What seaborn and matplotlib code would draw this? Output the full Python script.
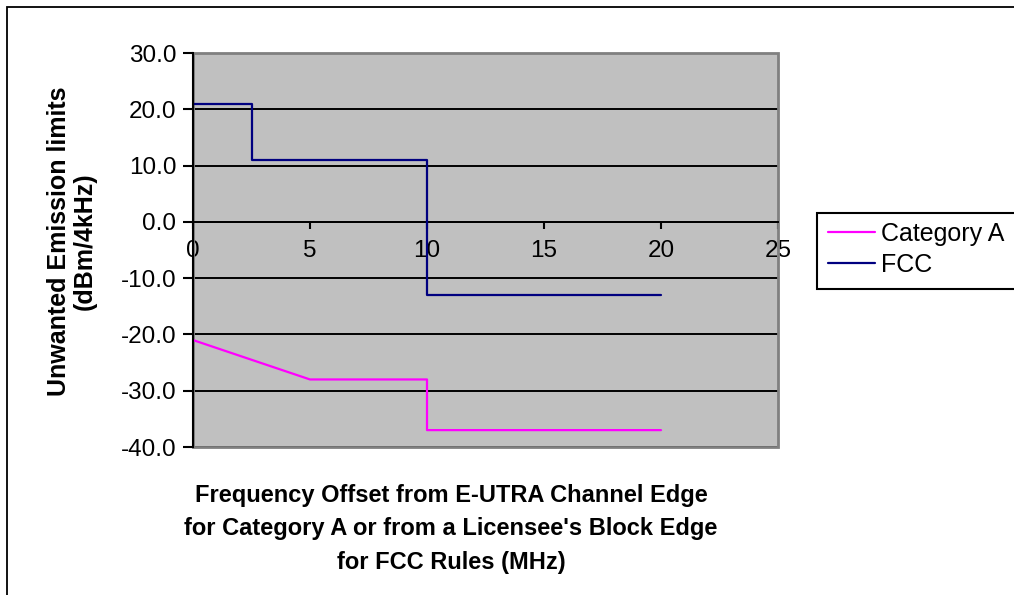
import matplotlib
matplotlib.use("Agg")
import matplotlib.pyplot as plt
from matplotlib.patches import Rectangle
from matplotlib.lines import Line2D
import seaborn as sns
import pandas as pd

# Emission limit masks (offset in MHz, limit in dBm/4kHz)
cat_a_offset = [0, 5, 10, 10, 20]
cat_a_limit = [-21, -28, -28, -37, -37]
fcc_offset = [0, 2.5, 2.5, 10, 10, 20]
fcc_limit = [21, 21, 11, 11, -13, -13]

series_names = ["Category A", "FCC"]
series_colors = ["#FF00FF", "#000080"]
x_ticks = [0, 5, 10, 15, 20, 25]
y_ticks = [30, 20, 10, 0, -10, -20, -30, -40]

df = pd.concat([
    pd.DataFrame({"offset": cat_a_offset, "limit": cat_a_limit, "series": series_names[0]}),
    pd.DataFrame({"offset": fcc_offset, "limit": fcc_limit, "series": series_names[1]}),
], ignore_index=True)

sns.set_style("white")
plt.rcParams["font.family"] = ["Liberation Sans", "DejaVu Sans"]
plt.rcParams["text.color"] = "black"
plt.rcParams["xtick.color"] = "black"
plt.rcParams["ytick.color"] = "black"

W, H = 1014, 595
fig = plt.figure(figsize=(W / 100, H / 100), dpi=100)
fig.patch.set_facecolor("white")

# outer chart border
fig.patches.append(Rectangle((7 / W, -0.2), 1.5, 1.2 - 7 / H, transform=fig.transFigure,
                             fill=False, edgecolor="black", linewidth=1.3, zorder=0))

left, right, top, bottom = 193, 778, 53, 447
ax = fig.add_axes([left / W, 1 - bottom / H, (right - left) / W, (bottom - top) / H])
ax.set_facecolor("#C0C0C0")

sns.lineplot(data=df, x="offset", y="limit", hue="series", palette=series_colors,
             hue_order=series_names, estimator=None, sort=False, linewidth=1.6,
             ax=ax, legend=False, zorder=3)

ax.set_xlim(0, 25)
ax.set_ylim(-40, 30)
ax.set_xticks(x_ticks)
ax.set_yticks(y_ticks)
ax.set_yticklabels([f"{v:.1f}" for v in y_ticks])
ax.set_xticklabels([str(v) for v in x_ticks])

ax.grid(False)
for yv in y_ticks:
    ax.axhline(yv, color="black", linewidth=1.4, zorder=1)

# gray plot-area frame
ax.add_patch(Rectangle((0, 0), 1, 1, transform=ax.transAxes, fill=False,
                       edgecolor="#808080", linewidth=2, zorder=2, clip_on=False))

for s in ["top", "right"]:
    ax.spines[s].set_visible(False)
ax.spines["left"].set_color("black")
ax.spines["left"].set_linewidth(1.5)
ax.spines["left"].set_zorder(4)
ax.spines["bottom"].set_position(("data", 0))
ax.spines["bottom"].set_color("black")
ax.spines["bottom"].set_linewidth(1.4)

ax.tick_params(axis="y", direction="out", length=7, width=1.5, color="black",
               labelcolor="black", labelsize=17.5, pad=5, left=True)
ax.tick_params(axis="x", direction="out", length=5, width=1.5, color="black",
               labelcolor="black", labelsize=17.5, pad=8, bottom=True)
ax.set_xlabel("")
ax.set_ylabel("")

fig.text(72 / W, 1 - 241 / H, "Unwanted Emission limits\n(dBm/4kHz)", rotation=90,
         ha="center", va="center", fontsize=18, fontweight="bold", linespacing=1.1,
         color="black")
fig.text(451 / W, 1 - 529 / H,
         "Frequency Offset from E-UTRA Channel Edge\nfor Category A or from a Licensee's Block Edge\nfor FCC Rules (MHz)",
         ha="center", va="center", fontsize=17, fontweight="bold", linespacing=1.6,
         color="black")

# legend box, running past the right edge of the chart
fig.patches.append(Rectangle((817 / W, 1 - 289 / H), 0.3, 76 / H, transform=fig.transFigure,
                             fill=True, facecolor="white", edgecolor="black",
                             linewidth=1.5, zorder=1))
handles = [Line2D([], [], color=c, linewidth=1.6) for c in series_colors]
leg = fig.legend(handles, series_names, loc="upper left",
                 bbox_to_anchor=(820 / W, 1 - 214 / H), fontsize=18, frameon=False,
                 borderpad=0.3, handlelength=1.9, handletextpad=0.25, labelspacing=0.3,
                 borderaxespad=0)
leg.set_zorder(2)
for t in leg.get_texts():
    t.set_color("black")

fig.savefig("out.png", dpi=100)
